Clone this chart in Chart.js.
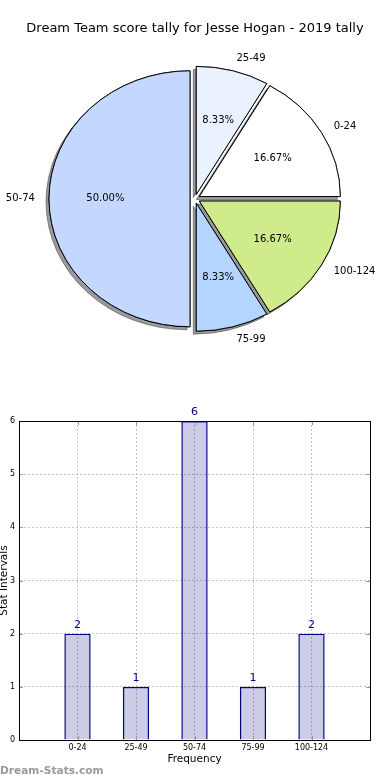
<!DOCTYPE html>
<html>
<head>
<meta charset="utf-8">
<title>Dream Team score tally for Jesse Hogan - 2019 tally</title>
<script src="https://cdn.jsdelivr.net/npm/chart.js@4.4.1/dist/chart.umd.min.js"></script>
<style>
    body { margin: 0; background: #fff; }
    #wrap { position: relative; width: 390px; height: 780px; overflow: hidden; }
    #pieChart { position: absolute; left: 0; top: 0; }
    #barChart { position: absolute; left: 0; top: 380px; }
    #brand { position: absolute; left: 0; top: 763px; font: bold 10.6px 'DejaVu Sans'; line-height: 14px; color: #9a9a9a; }
</style>
</head>
<body>
<div id="wrap">
    <canvas id="pieChart" width="390" height="380"></canvas>
    <canvas id="barChart" width="390" height="400"></canvas>
    <div id="brand">Dream-Stats.com</div>
</div>
<script>
// Chart data
const categories = ['0-24', '25-49', '50-74', '75-99', '100-124'];
const counts = [2, 1, 6, 1, 2];
const sliceColors = ['#ffffff', '#eaf1ff', '#c4d8ff', '#b3d5ff', '#cfeb8c'];
const yTicks = [0, 1, 2, 3, 4, 5, 6];

const font = "'DejaVu Sans'";
const explode = 5;        // slice offset, px
const squash = 128 / 141; // pie is drawn slightly flattened

// Chart.js goes clockwise, the original goes counter-clockwise from 3 o'clock
const pieOrder = categories.map((c, i) => i).reverse();

// Draw shadows first, then the exploded slices
const pieSlices = {
    id: 'pieSlices',
    beforeDatasetDraw(chart, args) {
        const ctx = chart.ctx;
        const arcs = args.meta.data;
        [true, false].forEach(shadow => {
            arcs.forEach(arc => {
                const mid = (arc.startAngle + arc.endAngle) / 2;
                ctx.save();
                ctx.translate(arc.x, arc.y);
                ctx.scale(1, squash);
                ctx.translate(-arc.x, -arc.y);
                ctx.translate(Math.cos(mid) * explode, Math.sin(mid) * explode);
                if (shadow) {
                    ctx.shadowColor = 'rgba(30,30,40,0.45)';
                    ctx.shadowOffsetX = -3;
                    ctx.shadowOffsetY = 3;
                }
                arc.draw(ctx);
                ctx.restore();
            });
        });
        return false;
    }
};

// Category names outside, percentages inside
const pieLabels = {
    id: 'pieLabels',
    afterDatasetsDraw(chart) {
        const ctx = chart.ctx;
        const meta = chart.getDatasetMeta(0);
        const total = counts.reduce((a, b) => a + b, 0);
        ctx.save();
        ctx.font = '10px ' + font;
        ctx.fillStyle = '#000';
        ctx.textBaseline = 'middle';
        meta.data.forEach((arc, i) => {
            const idx = pieOrder[i];
            const mid = (arc.startAngle + arc.endAngle) / 2;
            const cos = Math.cos(mid), sin = Math.sin(mid);
            const r = arc.outerRadius;
            const lr = explode + 1.1 * r;
            ctx.textAlign = cos > 0 ? 'left' : 'right';
            ctx.fillText(categories[idx], arc.x + lr * cos, arc.y + squash * lr * sin);
            const pr = explode + 0.6 * r;
            ctx.textAlign = 'center';
            ctx.fillText((counts[idx] / total * 100).toFixed(2) + '%', arc.x + pr * cos, arc.y + squash * pr * sin);
        });
        ctx.restore();
    }
};

new Chart(document.getElementById('pieChart'), {
    type: 'pie',
    data: {
        labels: pieOrder.map(i => categories[i]),
        datasets: [{
            data: pieOrder.map(i => counts[i]),
            backgroundColor: pieOrder.map(i => sliceColors[i]),
            borderColor: '#000',
            borderWidth: 1,
            radius: 141
        }]
    },
    options: {
        responsive: false,
        animation: false,
        rotation: 90,
        layout: { padding: { top: 0, right: 0, bottom: 19, left: 0 } },
        plugins: {
            legend: { display: false },
            tooltip: { enabled: false },
            title: {
                display: true,
                text: 'Dream Team score tally for Jesse Hogan - 2019 tally',
                color: '#000',
                font: { family: font, size: 13, weight: 'normal' },
                padding: { top: 21, bottom: 0 }
            }
        }
    },
    plugins: [pieSlices, pieLabels]
});

// Frame round the plot area plus inward tick marks
const frame = {
    id: 'frame',
    afterDatasetsDraw(chart) {
        const { ctx, chartArea: a, scales } = chart;
        ctx.save();
        ctx.strokeStyle = '#999';
        ctx.lineWidth = 1;
        ctx.beginPath();
        categories.forEach((c, i) => {
            const x = Math.round(scales.x.getPixelForValue(i + 1)) + 0.5;
            ctx.moveTo(x, a.top); ctx.lineTo(x, a.top + 4);
            ctx.moveTo(x, a.bottom); ctx.lineTo(x, a.bottom - 4);
        });
        yTicks.forEach(v => {
            const y = Math.round(scales.y.getPixelForValue(v)) + 0.5;
            ctx.moveTo(a.left, y); ctx.lineTo(a.left + 4, y);
            ctx.moveTo(a.right, y); ctx.lineTo(a.right - 4, y);
        });
        ctx.stroke();
        ctx.strokeStyle = '#000';
        ctx.strokeRect(Math.round(a.left) + 0.5, Math.round(a.top) + 0.5,
            Math.round(a.right - a.left), Math.round(a.bottom - a.top));
        ctx.restore();
    }
};

// Counts above each bar
const barValues = {
    id: 'barValues',
    afterDatasetsDraw(chart) {
        const ctx = chart.ctx;
        const meta = chart.getDatasetMeta(0);
        ctx.save();
        ctx.font = '11px ' + font;
        ctx.fillStyle = '#000080';
        ctx.textAlign = 'center';
        ctx.textBaseline = 'middle';
        meta.data.forEach((bar, i) => {
            const v = chart.data.datasets[0].data[i];
            if (v == null) return;
            ctx.fillText(v, bar.x, bar.y - 9);
        });
        ctx.restore();
    }
};

// empty slot at each end, like the original x range
const barLabels = [''].concat(categories, ['']);
const barData = [null].concat(counts, [null]);

new Chart(document.getElementById('barChart'), {
    type: 'bar',
    data: {
        labels: barLabels,
        datasets: [{
            data: barData,
            backgroundColor: 'rgba(0,0,128,0.2)',
            borderColor: '#000080',
            borderWidth: 1.4,
            barPercentage: 0.45,
            categoryPercentage: 1
        }]
    },
    options: {
        responsive: false,
        animation: false,
        layout: { padding: { top: 41, right: 20, bottom: 0, left: 0 } },
        plugins: {
            legend: { display: false },
            tooltip: { enabled: false }
        },
        scales: {
            x: {
                offset: false,
                afterFit(scale) { scale.height = 40; },
                grid: { color: '#c4c4c4', drawTicks: false, offset: false },
                border: { display: true, color: '#000', dash: [2, 2] },
                ticks: {
                    autoSkip: false, maxRotation: 0, padding: 3,
                    color: '#000', font: { family: font, size: 8 }
                },
                title: {
                    display: true, text: 'Frequency', color: '#000',
                    font: { family: font, size: 10.5 },
                    padding: { top: 0, bottom: 14 }
                }
            },
            y: {
                min: yTicks[0],
                max: yTicks[yTicks.length - 1],
                afterFit(scale) { scale.width = 19; },
                grid: { color: '#c4c4c4', drawTicks: false },
                border: { display: true, color: '#000', dash: [2, 2] },
                ticks: {
                    stepSize: 1, padding: 4,
                    color: '#000', font: { family: font, size: 8 }
                },
                title: {
                    display: true, text: 'Stat Intervals', color: '#000',
                    font: { family: font, size: 10.5 },
                    padding: { top: -2, bottom: 0 }
                }
            }
        }
    },
    plugins: [frame, barValues]
});
</script>
</body>
</html>
